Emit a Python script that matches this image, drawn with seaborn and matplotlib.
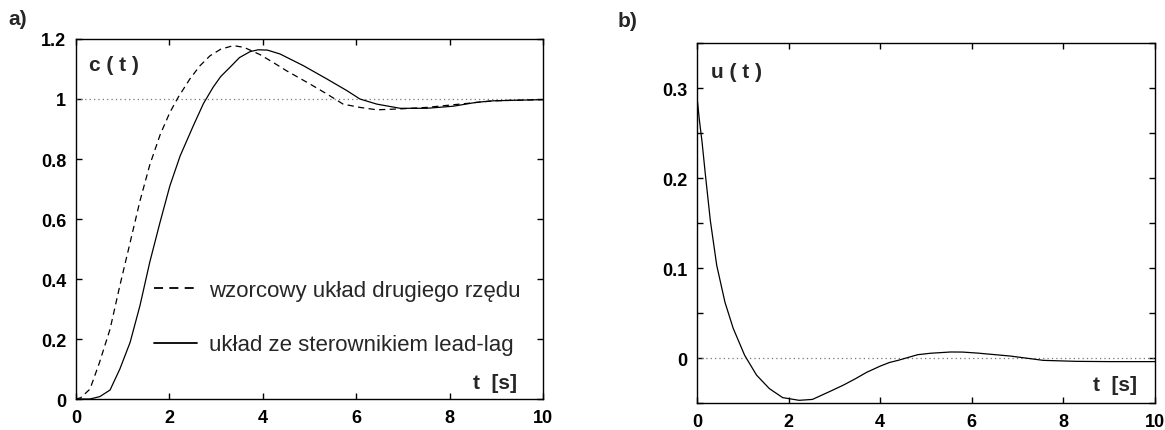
import numpy as np
import pandas as pd
import matplotlib
matplotlib.use("Agg")
import matplotlib.pyplot as plt
import seaborn as sns

# ---------------- data ----------------
series_names = ["wzorcowy układ drugiego rzędu", "układ ze sterownikiem lead-lag"]

t_ref = [0, 0.1, 0.3, 0.5, 0.73, 0.94, 1.16, 1.37, 1.58, 1.8, 2.01, 2.19, 2.44,
         2.65, 2.87, 3.1, 3.37, 3.6, 3.94, 4.2, 4.51, 5.01, 5.37, 5.72, 6.08,
         6.44, 6.94, 7.51, 8.22, 8.94, 10]
c_ref = [0, 0.004, 0.033, 0.12, 0.233, 0.378, 0.522, 0.66, 0.78, 0.88, 0.955,
         1.006, 1.067, 1.11, 1.144, 1.166, 1.178, 1.172, 1.148, 1.124, 1.094,
         1.05, 1.017, 0.983, 0.972, 0.964, 0.967, 0.972, 0.983, 0.994, 0.998]

t_ll = [0, 0.3, 0.51, 0.73, 0.94, 1.16, 1.37, 1.58, 1.8, 2.01, 2.23, 2.51, 2.73,
        2.94, 3.1, 3.3, 3.5, 3.73, 3.9, 4.1, 4.37, 4.87, 5.37, 5.8, 6.08, 6.44,
        6.94, 7.51, 8.08, 8.58, 8.94, 10]
c_ll = [0, 0.0, 0.008, 0.03, 0.1, 0.189, 0.311, 0.456, 0.589, 0.71, 0.81, 0.91,
        0.985, 1.04, 1.075, 1.106, 1.138, 1.158, 1.164, 1.163, 1.15, 1.111,
        1.067, 1.028, 1.0, 0.983, 0.969, 0.969, 0.976, 0.989, 0.994, 0.998]

t_u = [0, 0.05, 0.11, 0.18, 0.29, 0.43, 0.61, 0.79, 1.04, 1.3, 1.58, 1.87, 2.23,
       2.52, 2.95, 3.2, 3.46, 3.7, 4.0, 4.2, 4.39, 4.82, 5.1, 5.54, 5.8, 6.12,
       6.84, 7.56, 8.28, 9.0, 10]
u_vals = [0.29, 0.265, 0.24, 0.205, 0.153, 0.103, 0.062, 0.033, 0.003, -0.019,
          -0.034, -0.044, -0.047, -0.046, -0.036, -0.03, -0.023, -0.016,
          -0.009, -0.005, -0.0026, 0.0037, 0.0053, 0.0067, 0.0066, 0.0055,
          0.0022, -0.0026, -0.0037, -0.004, -0.004]

x_ticks = [0, 2, 4, 6, 8, 10]
x_ticklabels = ["0", "2", "4", "6", "8", "10"]
c_ticks = [0, 0.2, 0.4, 0.6, 0.8, 1.0, 1.2]
c_ticklabels = ["0", "0.2", "0.4", "0.6", "0.8", "1", "1.2"]
u_ticks = [0, 0.1, 0.2, 0.3]
u_ticklabels = ["0", "0.1", "0.2", "0.3"]
u_minor_ticks = [-0.05, 0.05, 0.15, 0.25, 0.35]
c_setpoint = 1.0
u_zero = 0.0

# ---------------- styling ----------------
sns.set_style("ticks")
plt.rcParams["font.family"] = ["Liberation Sans", "DejaVu Sans"]
plt.rcParams["axes.linewidth"] = 1.0

df_c = pd.concat([
    pd.DataFrame({"t": t_ref, "c": c_ref, "seria": series_names[0]}),
    pd.DataFrame({"t": t_ll, "c": c_ll, "seria": series_names[1]}),
], ignore_index=True)
df_u = pd.DataFrame({"t": t_u, "u": u_vals})

fig = plt.figure(figsize=(11.65, 4.31), dpi=100)
ax1 = fig.add_axes([0.0652, 0.0719, 0.4009, 0.8353])
ax2 = fig.add_axes([0.5983, 0.0626, 0.3931, 0.8353])

# left panel
ax1.axhline(c_setpoint, color="#777777", lw=0.9, ls=(0, (1, 2.5)), zorder=1)
sns.lineplot(data=df_c, x="t", y="c", style="seria",
             style_order=series_names,
             dashes={series_names[0]: (5, 3.5), series_names[1]: ""},
             color="black", lw=0.9, estimator=None, sort=True, ax=ax1)
ax1.set_xlim(0, 10)
ax1.set_ylim(0, 1.2)
ax1.set_xticks(x_ticks)
ax1.set_xticklabels(x_ticklabels)
ax1.set_yticks(c_ticks)
ax1.set_yticklabels(c_ticklabels)
ax1.set_xlabel("")
ax1.set_ylabel("")

leg = ax1.legend(loc="center left", bbox_to_anchor=(0.125, 0.226),
                 frameon=False, fontsize=16, handlelength=1.9,
                 handletextpad=0.55, labelspacing=1.5, borderpad=0.4)
for line in leg.get_lines():
    line.set_linewidth(1.3)
    line.set_color("black")

ax1.text(0.027, 0.93, "c ( t )", transform=ax1.transAxes, fontsize=15,
         ha="left", va="center", fontweight="bold")
ax1.text(0.945, 0.047, "t  [s]", transform=ax1.transAxes, fontsize=15,
         ha="right", va="center", fontweight="bold")

# right panel
ax2.axhline(u_zero, color="#777777", lw=0.9, ls=(0, (1, 2.5)), zorder=1)
sns.lineplot(data=df_u, x="t", y="u", color="black", lw=0.9,
             estimator=None, sort=True, ax=ax2)
ax2.set_xlim(0, 10)
ax2.set_ylim(-0.05, 0.35)
ax2.set_xticks(x_ticks)
ax2.set_xticklabels(x_ticklabels)
ax2.set_yticks(u_ticks)
ax2.set_yticklabels(u_ticklabels)
ax2.set_yticks(u_minor_ticks, minor=True)
ax2.set_xlabel("")
ax2.set_ylabel("")
ax2.text(0.03, 0.92, "u ( t )", transform=ax2.transAxes, fontsize=15,
         ha="left", va="center", fontweight="bold")
ax2.text(0.96, 0.052, "t  [s]", transform=ax2.transAxes, fontsize=15,
         ha="right", va="center", fontweight="bold")

for ax in (ax1, ax2):
    for s in ax.spines.values():
        s.set_visible(True)
        s.set_color("black")
    ax.tick_params(axis="both", which="both", direction="in", length=4,
                   width=1, top=True, right=True, labelsize=13, pad=7,
                   colors="black")
    for lab in ax.get_xticklabels() + ax.get_yticklabels():
        lab.set_fontweight("bold")

fig.text(0.007, 0.955, "a)", fontsize=15, fontweight="bold", ha="left", va="center")
fig.text(0.53, 0.95, "b)", fontsize=15, fontweight="bold", ha="left", va="center")

fig.savefig("out.png", dpi=100, facecolor="white")
